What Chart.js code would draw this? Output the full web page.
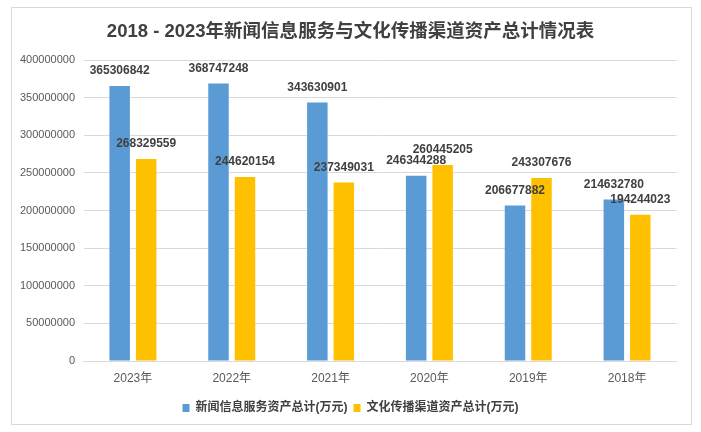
<!DOCTYPE html>
<html>
<head>
<meta charset="utf-8">
<script src="https://cdn.jsdelivr.net/npm/chart.js@4"></script>
<style>
  html, body { margin: 0; padding: 0; background: #fff; }
  #wrap { position: relative; width: 701px; height: 432px; }
  #frame { position: absolute; left: 11px; top: 7px; width: 681px; height: 418px; box-sizing: border-box; border: 1px solid #D9D9D9; }
  #chart { position: absolute; left: 0; top: 0; }
</style>
</head>
<body>
<div id="wrap">
  <div id="frame"></div>
  <canvas id="chart" width="701" height="432"></canvas>
</div>
<script>
// 2018-2023 news/info services vs culture channels, total assets (万元)
const years = ['2023年', '2022年', '2021年', '2020年', '2019年', '2018年'];
const newsAssets = [365306842, 368747248, 343630901, 246344288, 206677882, 214632780];
const cultureAssets = [268329559, 244620154, 237349031, 260445205, 243307676, 194244023];
const yTicks = [0, 50000000, 100000000, 150000000, 200000000, 250000000, 300000000, 350000000, 400000000];

const FONT = '"Liberation Sans", "Noto Sans CJK SC", sans-serif';

// value labels above each bar
const valueLabels = {
    id: 'valueLabels',
    afterDatasetsDraw(chart) {
        const ctx = chart.ctx;
        ctx.save();
        ctx.font = 'bold 12px ' + FONT;
        ctx.fillStyle = '#404040';
        ctx.textAlign = 'center';
        ctx.textBaseline = 'middle';
        chart.data.datasets.forEach((ds, i) => {
            chart.getDatasetMeta(i).data.forEach((bar, j) => {
                ctx.fillText(String(ds.data[j]), bar.x, bar.y - 15);
            });
        });
        ctx.restore();
    }
};

new Chart(document.getElementById('chart'), {
    type: 'bar',
    data: {
        labels: years,
        datasets: [{
            label: '新闻信息服务资产总计(万元)',
            data: newsAssets,
            backgroundColor: '#5B9BD5',
            categoryPercentage: 0.536,
            barPercentage: 0.774
        }, {
            label: '文化传播渠道资产总计(万元)',
            data: cultureAssets,
            backgroundColor: '#FFC000',
            categoryPercentage: 0.536,
            barPercentage: 0.774
        }]
    },
    options: {
        responsive: false,
        devicePixelRatio: 1,
        animation: false,
        layout: { padding: { left: 0, right: 0, top: 0, bottom: 8 } },
        plugins: {
            title: {
                display: true,
                text: '2018 - 2023年新闻信息服务与文化传播渠道资产总计情况表',
                color: '#404040',
                font: { family: FONT, size: 18.5, weight: 'bold' },
                padding: { top: 20.9, bottom: 16.9 }
            },
            legend: {
                position: 'bottom',
                labels: {
                    color: '#404040',
                    font: { family: FONT, size: 12, weight: 'bold' },
                    boxWidth: 7,
                    boxHeight: 8,
                    padding: 6
                }
            },
            tooltip: { enabled: false }
        },
        scales: {
            x: {
                grid: { display: false, drawTicks: false },
                border: { display: true, color: '#D9D9D9' },
                ticks: { color: '#595959', font: { family: FONT, size: 12 }, padding: 10 },
                afterFit: s => { s.height = 35; }
            },
            y: {
                min: 0,
                max: 400000000,
                afterBuildTicks: s => { s.ticks = yTicks.map(v => ({ value: v })); },
                grid: { color: '#D9D9D9', drawTicks: false },
                border: { display: false },
                ticks: {
                    color: '#595959',
                    font: { family: FONT, size: 11 },
                    padding: 8.5,
                    callback: v => String(v)
                },
                afterFit: s => { s.width = 83.5; }
            },
            // empty right-hand spacer so title and legend centre on the whole frame
            yRight: {
                position: 'right',
                grid: { display: false, drawTicks: false },
                border: { display: false },
                ticks: { display: false },
                afterFit: s => { s.width = 24.5; }
            }
        }
    },
    plugins: [valueLabels]
});
</script>
</body>
</html>
